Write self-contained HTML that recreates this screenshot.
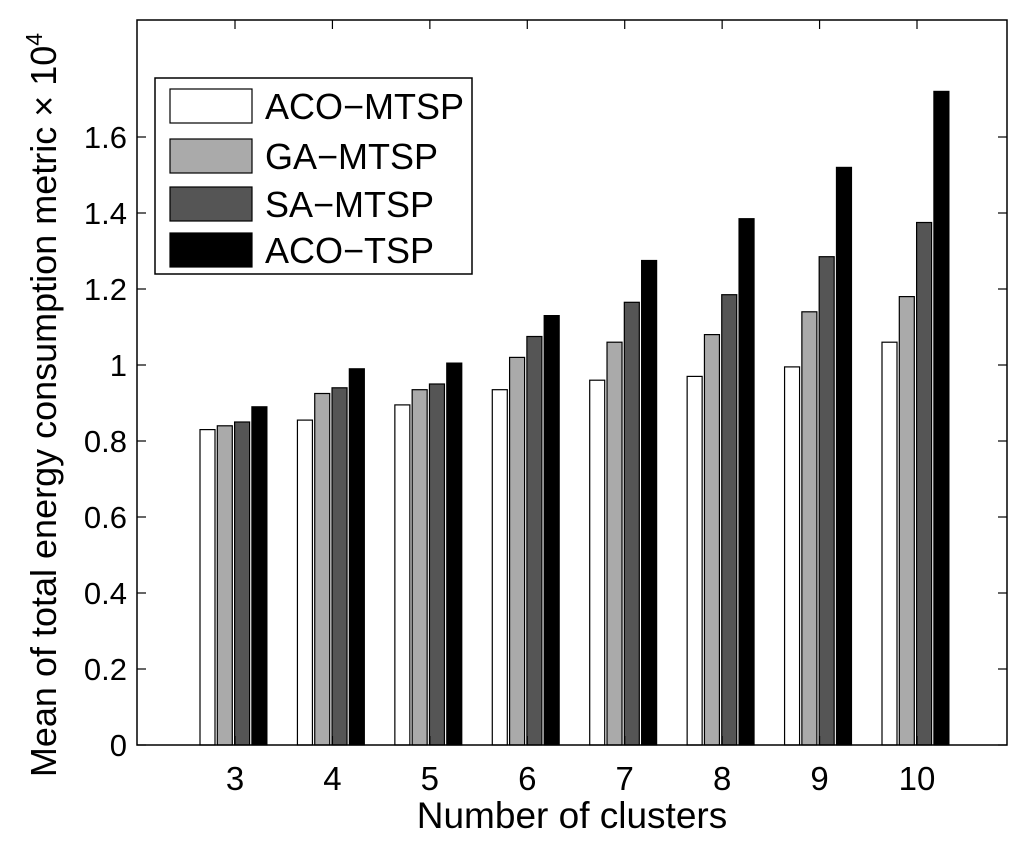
<!DOCTYPE html>
<html><head><meta charset="utf-8"><style>
body{margin:0;background:#fff;}
svg text{font-family:"Liberation Sans",Arial,sans-serif;fill:#000;}
</style></head><body>
<svg id="chart" width="1024" height="842" xmlns="http://www.w3.org/2000/svg">
<rect width="1024" height="842" fill="#fff"/>
<g id="bars"></g>
<g id="axes"></g>
<text transform="translate(56,405) rotate(-90)" text-anchor="middle" font-size="36">Mean of total energy consumption metric × 10<tspan dy="-14" font-size="23">4</tspan></text>
<text x="572" y="828" text-anchor="middle" font-size="37">Number of clusters</text>
<g>
<rect x="155" y="78" width="317" height="196" fill="#fff" stroke="#000" stroke-width="1.5"/>
</g>
<g id="legend-items"></g>
</svg>
<script>
const categories=["3","4","5","6","7","8","9","10"];
const seriesNames=["ACO−MTSP","GA−MTSP","SA−MTSP","ACO−TSP"];
const acoMtsp=[0.83,0.855,0.895,0.935,0.96,0.97,0.995,1.06];
const gaMtsp=[0.84,0.925,0.935,1.02,1.06,1.08,1.14,1.18];
const saMtsp=[0.85,0.94,0.95,1.075,1.165,1.185,1.285,1.375];
const acoTsp=[0.89,0.99,1.005,1.13,1.275,1.385,1.52,1.72];
const yTicks=[0,0.2,0.4,0.6,0.8,1,1.2,1.4,1.6];
const colors=["#ffffff","#aaaaaa","#555555","#000000"];
const L=137,R=1007,T=20,B=745;
const y=v=>B-v*(B-137)/1.6;
const x=i=>235+i*(917-235)/7;
const NS="http://www.w3.org/2000/svg";
function mk(t,a,p){const e=document.createElementNS(NS,t);for(const k in a)e.setAttribute(k,a[k]);p.appendChild(e);return e;}
const bars=document.getElementById('bars'),axes=document.getElementById('axes'),leg=document.getElementById('legend-items');
const series=[acoMtsp,gaMtsp,saMtsp,acoTsp];
series.forEach((s,j)=>s.forEach((v,i)=>{
 const r=mk('rect',{x:x(i)-35+j*17.3,y:y(v),width:15,height:B-y(v),fill:colors[j],stroke:'#000','stroke-width':1.2},bars);
 
 
}));
mk('rect',{x:L,y:T,width:R-L,height:B-T,fill:'none',stroke:'#000','stroke-width':1.5},axes);
yTicks.forEach(v=>{
 mk('line',{x1:L,x2:L+9,y1:y(v),y2:y(v),stroke:'#000','stroke-width':1.2},axes);
 mk('line',{x1:R,x2:R-9,y1:y(v),y2:y(v),stroke:'#000','stroke-width':1.2},axes);
 const t=mk('text',{x:L-10,y:y(v)+11,'text-anchor':'end','font-size':31},axes);t.textContent=String(v);
 
 
});
categories.forEach((c,i)=>{
 mk('line',{x1:x(i),x2:x(i),y1:B,y2:B-9,stroke:'#000','stroke-width':1.2},axes);
 mk('line',{x1:x(i),x2:x(i),y1:T,y2:T+9,stroke:'#000','stroke-width':1.2},axes);
 const t=mk('text',{x:x(i),y:B+45,'text-anchor':'middle','font-size':33},axes);t.textContent=c;
 
 
});
seriesNames.forEach((n,j)=>{
 const g=mk('g',{},leg);
 
 
 const yy=[89,139,187,233][j];
 mk('rect',{x:170,y:yy,width:82,height:34,fill:colors[j],stroke:'#000','stroke-width':1.2},g);
 const t=mk('text',{x:265,y:yy+30,'font-size':36},g);t.textContent=n;
});
</script>
</body></html>
